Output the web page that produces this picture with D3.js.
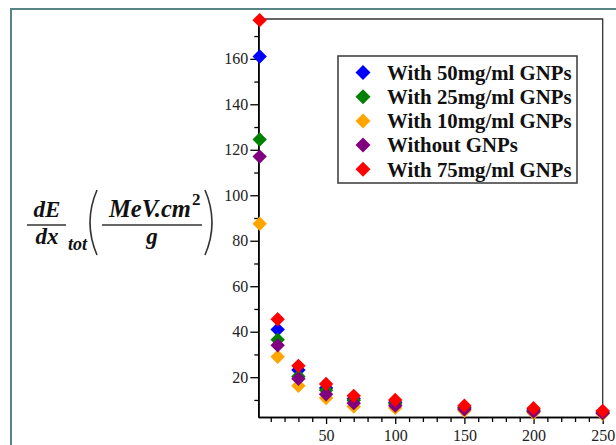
<!DOCTYPE html>
<html lang="en">
  <head>
    <meta charset="utf-8">
    <title>Stopping power vs energy</title>
    <script src="https://cdnjs.cloudflare.com/ajax/libs/d3/7.8.5/d3.min.js"></script>
    <style type="text/css">
    body { margin: 0; background: #fff; }
    svg text { font-family: "Liberation Serif", "Times New Roman", serif; }
    </style>
  </head>
  <body>
    <script type="text/javascript">
    // Width and height
    var w = 616;
    var h = 445;

    // data
    var energies = [2, 15, 30, 50, 70, 100, 150, 200, 250];
    var with50 = [161, 41, 23.2, 15.3, 10.5, 9, 6.8, 5.6, 4.7];
    var with25 = [124.5, 36.5, 20.3, 14.3, 9.8, 8.3, 6.3, 5.2, 4.4];
    var with10 = [87.5, 29, 16.2, 10.8, 7.1, 6.5, 5.2, 4.4, 3.8];
    var without = [117, 34, 19.3, 12.5, 8.6, 7.5, 5.9, 4.9, 4.2];
    var with75 = [177, 45.5, 25, 17, 11.8, 10, 7.5, 6.4, 5.2];

    var seriesNames = ["With 50mg/ml GNPs", "With 25mg/ml GNPs", "With 10mg/ml GNPs", "Without GNPs", "With 75mg/ml GNPs"];
    var seriesValues = [with50, with25, with10, without, with75];
    var seriesColors = ["#0000ff", "#008000", "#ffa500", "#800080", "#ff0000"];

    var yMajor = [20, 40, 60, 80, 100, 120, 140, 160];
    var yMinor = [10, 30, 50, 70, 90, 110, 130, 150, 170];
    var xMajor = [50, 100, 150, 200, 250];
    var xMinor = d3.range(10, 251, 10).filter(function(d) { return d % 50 != 0; });

    var svg = d3.select("body")
      .append("svg")
      .attr("width", w)
      .attr("height", h);

    // outer frame
    svg.append("path")
      .attr("d", "M11,445 L11,9 L616,9")
      .attr("fill", "none")
      .attr("stroke", "#578585")
      .attr("stroke-width", 2);

    var x = d3.scaleLinear().domain([1, 250]).range([258.3, 602.7]);
    var y = d3.scaleLinear().domain([2.5, 177.5]).range([417, 19]);

    // plot box (top and right)
    svg.append("path")
      .attr("d", "M" + x(1) + "," + y(177.5) + " L" + x(250) + "," + y(177.5) + " L" + x(250) + "," + y(2.5))
      .attr("fill", "none")
      .attr("stroke", "#333")
      .attr("stroke-width", 1.3);

    // minor ticks first
    svg.append("g")
      .attr("transform", "translate(" + x(1) + ",0)")
      .call(d3.axisLeft(y).tickValues(yMinor).tickSize(4).tickSizeOuter(0).tickFormat(""));
    svg.append("g")
      .attr("transform", "translate(0," + y(2.5) + ")")
      .call(d3.axisBottom(x).tickValues(xMinor).tickSize(5).tickSizeOuter(0).tickFormat(""));

    var yAxis = svg.append("g")
      .attr("transform", "translate(" + x(1) + ",0)")
      .call(d3.axisLeft(y).tickValues(yMajor).tickSize(8).tickSizeOuter(0).tickPadding(2));
    var xAxis = svg.append("g")
      .attr("transform", "translate(0," + y(2.5) + ")")
      .call(d3.axisBottom(x).tickValues(xMajor).tickSize(7).tickSizeOuter(0).tickPadding(6));

    svg.selectAll(".domain").attr("stroke", "#000").attr("stroke-width", 1.6);
    svg.selectAll(".tick line").attr("stroke", "#000").attr("stroke-width", 1.3);
    svg.selectAll(".tick text")
      .attr("font-family", "Liberation Serif")
      .attr("font-size", "16px")
      .attr("fill", "#222");

    // diamond marker
    function diamond(r) {
      return "M0," + (-r) + "L" + r + ",0L0," + r + "L" + (-r) + ",0Z";
    }

    seriesValues.forEach(function(vals, s) {
      svg.append("g")
        .selectAll("path")
        .data(vals)
        .enter()
        .append("path")
        .attr("d", diamond(7.2))
        .attr("transform", function(d, i) {
          return "translate(" + x(energies[i]) + "," + y(d) + ")";
        })
        .attr("fill", seriesColors[s]);
    });

    // legend
    var leg = svg.append("g");
    leg.append("rect")
      .attr("x", 338)
      .attr("y", 56)
      .attr("width", 239)
      .attr("height", 127)
      .attr("fill", "#fff")
      .attr("stroke", "#444")
      .attr("stroke-width", 1.6);
    seriesNames.forEach(function(name, i) {
      var ly = 72.5 + i * 24.2;
      leg.append("path")
        .attr("d", diamond(7.5))
        .attr("transform", "translate(363," + ly + ")")
        .attr("fill", seriesColors[i]);
      leg.append("text")
        .attr("x", 387)
        .attr("y", ly)
        .attr("dy", "0.35em")
        .attr("font-size", "20.8px")
        .attr("font-weight", "bold")
        .attr("fill", "#111")
        .text(name);
    });

    // y axis label: dE/dx_tot (MeV.cm^2 / g)
    var lab = svg.append("g")
      .attr("font-weight", "bold")
      .attr("font-style", "italic")
      .attr("fill", "#111");
    lab.append("text").attr("x", 47).attr("y", 217).attr("text-anchor", "middle")
      .attr("font-size", "23px").text("dE");
    lab.append("line").attr("x1", 27).attr("x2", 66).attr("y1", 225).attr("y2", 225)
      .attr("stroke", "#333").attr("stroke-width", 1.5);
    lab.append("text").attr("x", 47).attr("y", 244).attr("text-anchor", "middle")
      .attr("font-size", "23px").text("dx");
    lab.append("text").attr("x", 68).attr("y", 250)
      .attr("font-size", "18px").text("tot");
    lab.append("path").attr("d", "M97,190 Q83,222.5 97,255")
      .attr("fill", "none").attr("stroke", "#333").attr("stroke-width", 1.6);
    lab.append("path").attr("d", "M205,190 Q219,222.5 205,255")
      .attr("fill", "none").attr("stroke", "#333").attr("stroke-width", 1.6);
    lab.append("text").attr("x", 109).attr("y", 217)
      .attr("font-size", "24.5px").text("MeV.cm");
    lab.append("text").attr("x", 192).attr("y", 205)
      .attr("font-size", "17px").attr("font-style", "normal").text("2");
    lab.append("line").attr("x1", 102).attr("x2", 202).attr("y1", 225).attr("y2", 225)
      .attr("stroke", "#333").attr("stroke-width", 1.5);
    lab.append("text").attr("x", 152).attr("y", 244).attr("text-anchor", "middle")
      .attr("font-size", "23px").text("g");
    </script>
  </body>
</html>
